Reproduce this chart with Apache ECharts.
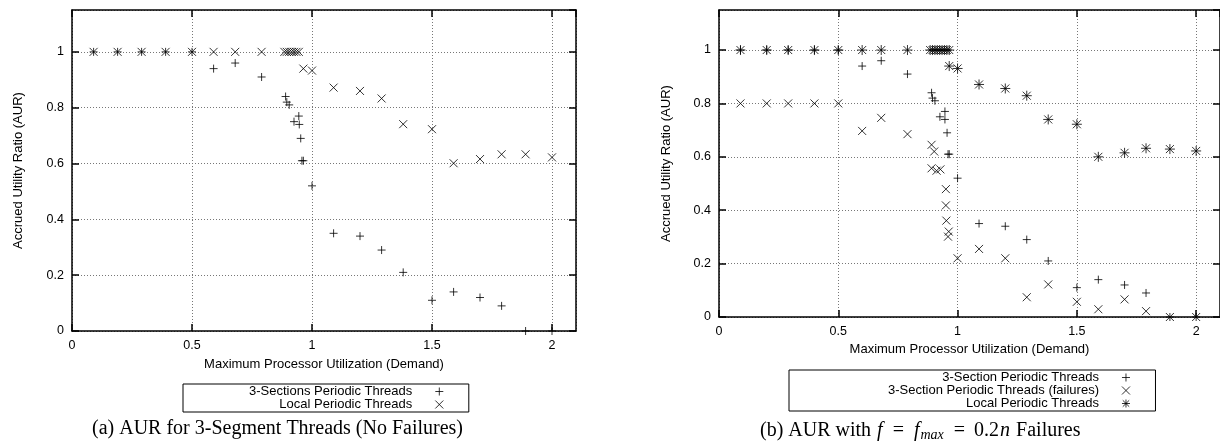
<!DOCTYPE html>
<html>
<head>
<meta charset="utf-8">
<script src="https://cdn.jsdelivr.net/npm/echarts/dist/echarts.min.js"></script>
<style>
  html, body { margin: 0; padding: 0; background: #fff; }
  #chart { width: 1220px; height: 445px; }
</style>
</head>
<body>
<div id="chart"></div>
<script>
// ---- data ----
// (a) no failures
const aSectionX = [0.09, 0.19, 0.29, 0.39, 0.5, 0.59, 0.68, 0.79, 0.89, 0.895, 0.905, 0.925, 0.945, 0.947, 0.953, 0.958, 0.964, 1.0, 1.09, 1.2, 1.29, 1.38, 1.5, 1.59, 1.7, 1.79, 1.89, 2.0];
const aSectionY = [1, 1, 1, 1, 1, 0.94, 0.96, 0.91, 0.84, 0.82, 0.81, 0.75, 0.77, 0.74, 0.69, 0.61, 0.61, 0.52, 0.35, 0.34, 0.29, 0.21, 0.11, 0.14, 0.12, 0.09, 0, 0];
const aLocalX = [0.09, 0.19, 0.29, 0.39, 0.5, 0.59, 0.68, 0.79, 0.885, 0.895, 0.905, 0.915, 0.925, 0.935, 0.945, 0.964, 1.0, 1.09, 1.2, 1.29, 1.38, 1.5, 1.59, 1.7, 1.79, 1.89, 2.0];
const aLocalY = [1, 1, 1, 1, 1, 1, 1, 1, 1, 1, 1, 1, 1, 1, 1, 0.94, 0.933, 0.872, 0.86, 0.833, 0.741, 0.723, 0.601, 0.616, 0.633, 0.633, 0.622];

// (b) f = fmax failures
const bSectionX = [0.09, 0.2, 0.29, 0.4, 0.5, 0.6, 0.68, 0.79, 0.891, 0.895, 0.905, 0.926, 0.947, 0.947, 0.956, 0.96, 0.965, 1.0, 1.09, 1.2, 1.29, 1.38, 1.5, 1.59, 1.7, 1.79, 1.89, 2.0];
const bSectionY = [1, 1, 1, 1, 1, 0.94, 0.96, 0.91, 0.84, 0.82, 0.81, 0.75, 0.77, 0.74, 0.69, 0.61, 0.61, 0.52, 0.35, 0.34, 0.29, 0.21, 0.11, 0.14, 0.12, 0.09, 0, 0];
const bFailX = [0.09, 0.2, 0.29, 0.4, 0.5, 0.6, 0.68, 0.79, 0.891, 0.902, 0.891, 0.912, 0.928, 0.951, 0.951, 0.953, 0.963, 0.96, 1.0, 1.09, 1.2, 1.29, 1.38, 1.5, 1.59, 1.7, 1.79, 1.89, 2.0];
const bFailY = [0.8, 0.8, 0.8, 0.8, 0.8, 0.697, 0.746, 0.685, 0.645, 0.62, 0.557, 0.548, 0.553, 0.479, 0.418, 0.361, 0.32, 0.301, 0.22, 0.255, 0.22, 0.074, 0.122, 0.057, 0.029, 0.066, 0.022, 0, 0];
const bLocalX = [0.09, 0.2, 0.29, 0.4, 0.5, 0.6, 0.68, 0.79, 0.885, 0.895, 0.905, 0.915, 0.925, 0.935, 0.945, 0.955, 0.965, 0.965, 1.0, 1.09, 1.2, 1.29, 1.38, 1.5, 1.59, 1.7, 1.79, 1.89, 2.0];
const bLocalY = [1, 1, 1, 1, 1, 1, 1, 1, 1, 1, 1, 1, 1, 1, 1, 1, 1, 0.94, 0.931, 0.871, 0.856, 0.829, 0.74, 0.722, 0.6, 0.615, 0.632, 0.629, 0.622];

const xTitle = 'Maximum Processor Utilization (Demand)';
const yTitle = 'Accrued Utility Ratio (AUR)';

// ---- styles ----
const SANS = 'Liberation Sans';
const SERIF = 'Liberation Serif';
const PLUS = 'path://M0,5L10,5M5,0L5,10';
const CROSS = 'path://M0,0L10,10M10,0L0,10';
const STAR = 'path://M0,5L10,5M5,0L5,10M1,1L9,9M9,1L1,9';

const frame = { show: true, onZero: false, lineStyle: { color: '#000', width: 1.5 } };
const ticksIn = { show: true, inside: true, length: 7, lineStyle: { color: '#000', width: 1.5 } };
const dotted = { show: true, lineStyle: { color: '#777', type: [1, 2], width: 1 } };
const tickLabel = { color: '#000', fontFamily: SANS, fontSize: 12.5, margin: 8, showMaxLabel: false };
const noLabel = { show: false };

function xAxes(gridIndex, nameGap) {
  return [
    { type: 'value', gridIndex, min: 0, max: 2.1, interval: 0.5, position: 'bottom',
      name: xTitle, nameLocation: 'middle', nameGap,
      nameTextStyle: { color: '#000', fontFamily: SANS, fontSize: 13 },
      axisLine: frame, axisTick: ticksIn, axisLabel: tickLabel, splitLine: dotted },
    { type: 'value', gridIndex, min: 0, max: 2.1, interval: 0.5, position: 'top',
      axisLine: frame, axisTick: ticksIn, axisLabel: noLabel, splitLine: { show: false } }
  ];
}

function yAxes(gridIndex, nameGap) {
  return [
    { type: 'value', gridIndex, min: 0, max: 1.15, interval: 0.2, position: 'left',
      name: yTitle, nameLocation: 'middle', nameGap, nameRotate: 90,
      nameTextStyle: { color: '#000', fontFamily: SANS, fontSize: 13 },
      axisLine: frame, axisTick: ticksIn, axisLabel: tickLabel, splitLine: dotted },
    { type: 'value', gridIndex, min: 0, max: 1.15, interval: 0.2, position: 'right',
      axisLine: frame, axisTick: ticksIn, axisLabel: noLabel, splitLine: { show: false } }
  ];
}

const pts = (xs, ys) => xs.map((x, i) => [x, ys[i]]);

function marks(name, symbol, size, xs, ys, axis) {
  return {
    name, type: 'scatter', symbol, symbolSize: size,
    xAxisIndex: axis, yAxisIndex: axis,
    data: pts(xs, ys),
    itemStyle: { color: 'rgba(0,0,0,0)', borderColor: '#000', borderWidth: 1 },
    silent: true
  };
}

function legendBox(left, top, pad, items) {
  return {
    orient: 'vertical', left, top, align: 'right',
    selectedMode: false,
    itemWidth: 8, itemHeight: 8, itemGap: 0,
    padding: pad,
    borderColor: '#000', borderWidth: 1,
    itemStyle: { color: 'rgba(0,0,0,0)', borderColor: '#000', borderWidth: 1 },
    textStyle: { color: '#000', fontFamily: SANS, fontSize: 13, padding: [0, 18, 0, 0] },
    data: items
  };
}

const capStyle = { color: '#000', fontFamily: SERIF, fontSize: 20, fontWeight: 'normal' };

const chart = echarts.init(document.getElementById('chart'), null, { renderer: 'canvas' });

chart.setOption({
  animation: false,
  backgroundColor: '#fff',
  title: [
    { text: '(a) AUR for 3-Segment Threads (No Failures)', left: 92, top: 419, padding: 0, textStyle: capStyle },
    { text: '(b) AUR with {i|f}{e|=}{i|f}{s|max}{e|=}0.2{i|n} Failures', left: 760, top: 419, padding: 0,
      textStyle: Object.assign({}, capStyle, {
        rich: {
          i: { fontFamily: SERIF, fontSize: 20, fontStyle: 'italic', color: '#000', padding: [0, 1, 0, 1] },
          e: { fontFamily: SERIF, fontSize: 20, color: '#000', padding: [0, 9, 0, 9] },
          s: { fontFamily: SERIF, fontSize: 14, fontStyle: 'italic', color: '#000', padding: [9, 1, 0, 0] }
        } }) }
  ],
  grid: [
    { left: 72, top: 10, width: 504, height: 321 },
    { left: 719, top: 10, width: 505, height: 307 }
  ],
  xAxis: [...xAxes(0, 27), ...xAxes(1, 19)],
  yAxis: [...yAxes(0, 47), ...yAxes(1, 46)],
  legend: [
    legendBox(183, 384, [1, 25, 1, 66], [
      { name: '3-Sections Periodic Threads', icon: PLUS },
      { name: 'Local Periodic Threads', icon: CROSS }
    ]),
    legendBox(789, 370, [1, 25, 1, 99], [
      { name: '3-Section Periodic Threads', icon: PLUS },
      { name: '3-Section Periodic Threads (failures)', icon: CROSS },
      { name: 'Local Periodic Threads', icon: STAR }
    ])
  ],
  series: [
    marks('3-Sections Periodic Threads', PLUS, 8, aSectionX, aSectionY, 0),
    marks('Local Periodic Threads', CROSS, 8, aLocalX, aLocalY, 0),
    marks('3-Section Periodic Threads', PLUS, 8, bSectionX, bSectionY, 2),
    marks('3-Section Periodic Threads (failures)', CROSS, 8, bFailX, bFailY, 2),
    marks('Local Periodic Threads', STAR, 10, bLocalX, bLocalY, 2)
  ]
});
</script>
</body>
</html>
